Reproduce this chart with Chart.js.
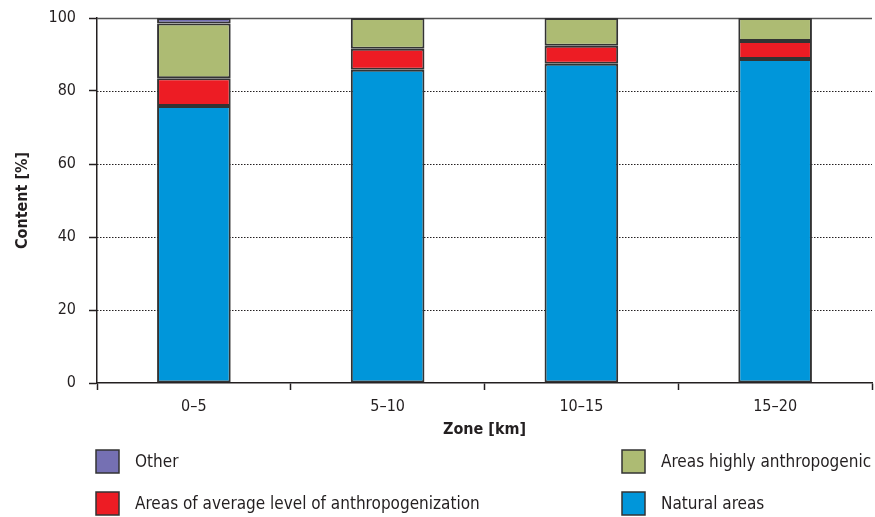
<!DOCTYPE html>
<html>
<head>
<meta charset="utf-8">
<script src="https://cdn.jsdelivr.net/npm/chart.js@4/dist/chart.umd.min.js"></script>
<style>
  html, body { margin: 0; padding: 0; background: #fff; }
  #wrap { width: 875px; height: 517px; position: relative; }
</style>
</head>
<body>
<div id="wrap"><canvas id="zoneChart" width="875" height="517"></canvas></div>
<script>
const zones = ['0–5', '5–10', '10–15', '15–20'];
const naturalAreas = [75.9, 85.8, 87.5, 88.8];
const averageAreas = [7.6, 5.8, 4.9, 4.9];
const highlyAreas = [15.0, 8.4, 7.6, 6.3];
const otherAreas = [1.5, 0, 0, 0];
const yTicks = [0, 20, 40, 60, 80, 100];

const FONT = "'DejaVu Sans Condensed', 'Liberation Sans Narrow', 'Liberation Sans', sans-serif";
const edge = '#333333';
const ink = '#231f20';

// dotted horizontal grid lines (v4 grid has no dash option)
const dottedGrid = {
  id: 'dottedGrid',
  beforeDatasetsDraw(chart) {
    const { ctx, chartArea, scales } = chart;
    ctx.save();
    yTicks.forEach(v => {
      if (v === 0) return;
      const y = Math.round(scales.y.getPixelForValue(v)) + 0.5;
      ctx.beginPath();
      if (v === 100) {
        ctx.setLineDash([]);
        ctx.strokeStyle = '#555';
        ctx.lineWidth = 1.5;
      } else {
        ctx.setLineDash([1.5, 1.5]);
        ctx.strokeStyle = ink;
        ctx.lineWidth = 1;
      }
      ctx.moveTo(chartArea.left, y);
      ctx.lineTo(chartArea.right, y);
      ctx.stroke();
    });
    ctx.restore();
  }
};

// legend drawn under the plot, two columns like the original
const legendPlugin = {
  id: 'twoColLegend',
  afterDraw(chart) {
    const ctx = chart.ctx;
    const ds = chart.data.datasets;
    const items = [
      { d: ds[3], x: 96, y: 450 },
      { d: ds[2], x: 622, y: 450 },
      { d: ds[1], x: 96, y: 492 },
      { d: ds[0], x: 622, y: 492 }
    ];
    ctx.save();
    ctx.font = '17px ' + FONT;
    ctx.textBaseline = 'middle';
    items.forEach(it => {
      ctx.fillStyle = it.d.backgroundColor;
      ctx.fillRect(it.x, it.y, 23, 23);
      ctx.strokeStyle = edge;
      ctx.lineWidth = 1.5;
      ctx.strokeRect(it.x, it.y, 23, 23);
      ctx.fillStyle = ink;
      ctx.fillText(it.d.label, it.x + 39, it.y + 13);
    });
    ctx.restore();
  }
};

const mk = (label, data, color) => ({
  label, data,
  backgroundColor: color,
  borderColor: edge,
  borderWidth: 2,
  borderSkipped: false,
  barPercentage: 0.38,
  categoryPercentage: 1
});

new Chart(document.getElementById('zoneChart'), {
  type: 'bar',
  data: {
    labels: zones,
    datasets: [
      mk('Natural areas', naturalAreas, '#0096da'),
      mk('Areas of average level of anthropogenization', averageAreas, '#ed1c24'),
      mk('Areas highly anthropogenic', highlyAreas, '#adbb73'),
      mk('Other', otherAreas, '#7570b3')
    ]
  },
  options: {
    responsive: false,
    animation: false,
    layout: { padding: { top: 18, right: 3, bottom: 78, left: 0 } },
    plugins: {
      legend: { display: false },
      tooltip: { enabled: false }
    },
    scales: {
      x: {
        stacked: true,
        offset: true,
        grid: {
          offset: true,
          drawOnChartArea: false,
          tickLength: 7,
          tickColor: ink,
          tickWidth: 1.5
        },
        border: { color: ink, width: 1.5 },
        ticks: { color: ink, font: { family: FONT, size: 16 }, padding: 7 },
        title: {
          display: true, text: 'Zone [km]', color: ink,
          font: { family: FONT, size: 16, weight: 'bold' }, padding: { top: 11, bottom: 0 }
        },
        afterFit: s => { s.height = 517 - 383 - 78; }
      },
      y: {
        stacked: true,
        min: 0, max: 100,
        afterBuildTicks: s => { s.ticks = yTicks.map(v => ({ value: v })); },
        grid: {
          drawOnChartArea: false,
          tickLength: 8,
          tickColor: ink,
          tickWidth: 1.5
        },
        border: { color: ink, width: 1.5 },
        ticks: { color: ink, font: { family: FONT, size: 16 }, padding: 13 },
        title: {
          display: true, text: 'Content [%]', color: ink,
          font: { family: FONT, size: 16, weight: 'bold' }, padding: { top: 13, bottom: 0 }
        },
        afterFit: s => { s.width = 97; s.paddingTop = 0; s.paddingBottom = 0; }
      }
    }
  },
  plugins: [dottedGrid, legendPlugin]
});
</script>
</body>
</html>
